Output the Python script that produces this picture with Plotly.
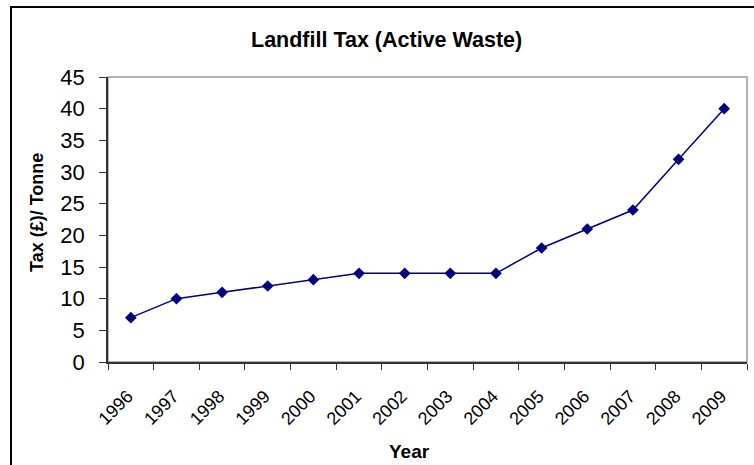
import plotly.graph_objects as go

years = ["1996", "1997", "1998", "1999", "2000", "2001", "2002",
         "2003", "2004", "2005", "2006", "2007", "2008", "2009"]
tax_per_tonne = [7, 10, 11, 12, 13, 14, 14, 14, 14, 18, 21, 24, 32, 40]
y_ticks = [0, 5, 10, 15, 20, 25, 30, 35, 40, 45]

x_pos = list(range(len(years)))
boundaries = [i - 0.5 for i in range(len(years) + 1)]

# plot-area geometry in pixels
L, R, T, B = 108, 747, 77, 362
W, H = R - L, B - T


def px(x):
    return (x - L) / W


def py(y):
    return (B - y) / H


fig = go.Figure()
fig.add_trace(go.Scatter(
    x=x_pos, y=tax_per_tonne, mode="lines+markers",
    line=dict(color="#000080", width=1.5),
    marker=dict(symbol="diamond", size=9, color="#000080"),
    hoverinfo="skip", showlegend=False,
))

font = "Liberation Sans, Arial, sans-serif"

fig.update_layout(
    width=754, height=465,
    margin=dict(l=L, r=754 - R, t=T, b=465 - B),
    paper_bgcolor="white", plot_bgcolor="white",
    font=dict(family=font, color="black"),
    xaxis=dict(
        range=[-0.5, len(years) - 0.5],
        tickvals=x_pos, ticktext=years, tickangle=-45,
        ticks="", tickfont=dict(size=18),
        ticklabelstandoff=15, ticklabelshift=-3,
        showline=True, linecolor="#333333", linewidth=1.5,
        showgrid=False, zeroline=False,
        minor=dict(tickvals=boundaries, ticks="outside", ticklen=6,
                   tickcolor="#333333", tickwidth=1, showgrid=False),
    ),
    yaxis=dict(
        range=[0, 45], tickvals=y_ticks,
        ticks="outside", ticklen=7, tickcolor="#333333", tickwidth=1,
        tickfont=dict(size=22), ticklabelstandoff=10,
        showline=True, linecolor="#333333", linewidth=1.5,
        showgrid=False, zeroline=False,
    ),
    annotations=[
        dict(text="<b>Landfill Tax (Active Waste)</b>", xref="paper", yref="paper",
             x=px(386), y=py(40), xanchor="center", yanchor="middle",
             showarrow=False, font=dict(size=21.5)),
        dict(text="<b>Year</b>", xref="paper", yref="paper",
             x=px(409), y=py(451), xanchor="center", yanchor="middle",
             showarrow=False, font=dict(size=19)),
        dict(text="<b>Tax (£)/ Tonne</b>", xref="paper", yref="paper",
             x=px(37), y=py(213), xanchor="center", yanchor="middle",
             textangle=-90, showarrow=False, font=dict(size=18)),
    ],
    shapes=[
        # gray frame around the plot area
        dict(type="rect", xref="paper", yref="paper", x0=0, y0=0, x1=1, y1=1,
             line=dict(color="#999999", width=1.5), layer="below"),
        # outer chart border
        dict(type="rect", xref="paper", yref="paper",
             x0=px(11), x1=1.3, y0=-0.6, y1=py(7),
             line=dict(color="black", width=2)),
    ],
)

fig.write_html("out.html")
